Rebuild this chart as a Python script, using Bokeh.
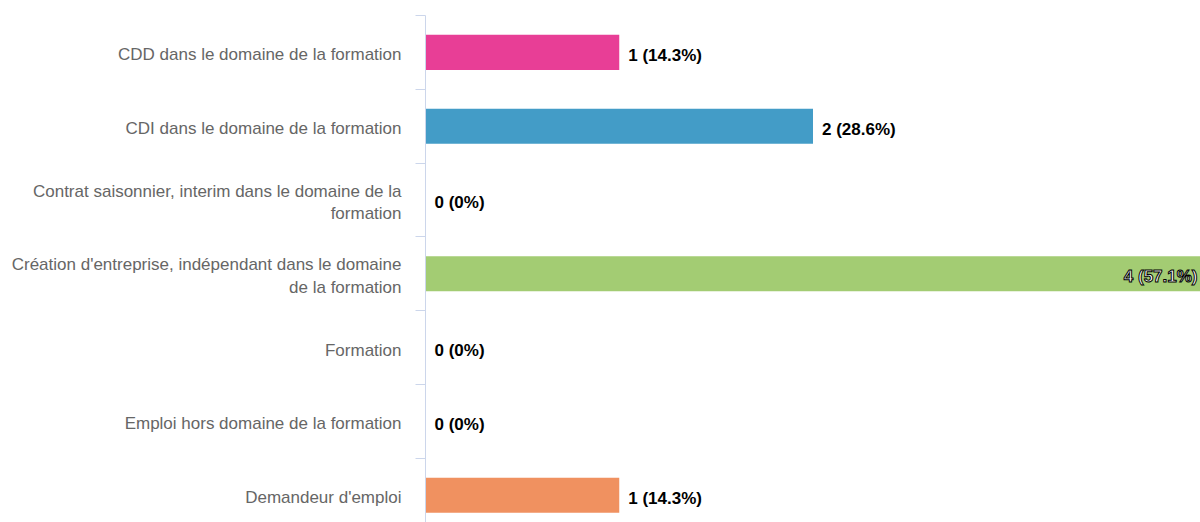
from bokeh.plotting import figure
from bokeh.models import Range1d, FixedTicker, ColumnDataSource
from bokeh.core.properties import value
from bokeh.embed import file_html
from bokeh.resources import INLINE

categories = [
    "CDD dans le domaine de la formation",
    "CDI dans le domaine de la formation",
    "Contrat saisonnier, interim dans le domaine de la\nformation",
    "Création d'entreprise, indépendant dans le domaine\nde la formation",
    "Formation",
    "Emploi hors domaine de la formation",
    "Demandeur d'emploi",
]
counts = [1, 2, 0, 4, 0, 0, 1]
percents = ["14.3%", "28.6%", "0%", "57.1%", "0%", "0%", "14.3%"]
colors = ["#e83e96", "#439cc7", "#7cb5ec", "#a3cc73", "#f7a35c", "#8085e9", "#f09160"]

labels = [f"{c} ({pc})" for c, pc in zip(counts, percents)]
ypos = list(range(len(categories)))
vmax = max(counts)

p = figure(width=1200, height=522, output_backend="svg", toolbar_location=None,
           x_range=Range1d(0, vmax), y_range=Range1d(6.37, -0.5),
           x_axis_location=None, min_border_left=425, min_border_right=0,
           min_border_top=15, min_border_bottom=0)
p.outline_line_color = None
p.xgrid.visible = False
p.ygrid.visible = False
p.background_fill_color = "white"
p.border_fill_color = "white"

src = ColumnDataSource(dict(y=ypos, v=counts, c=colors, lab=labels))
p.hbar(y="y", right="v", left=0, height=0.475, fill_color="c", line_color=None, source=src)

out_idx = [i for i, c in enumerate(counts) if c < vmax]
in_idx = [i for i, c in enumerate(counts) if c == vmax]
p.text(x=[counts[i] for i in out_idx], y=[ypos[i] for i in out_idx],
       text=[labels[i] for i in out_idx], x_offset=9, y_offset=3,
       text_font=value("Liberation Sans"), text_font_style="bold",
       text_font_size="17px", text_color="#000000",
       text_align="left", text_baseline="middle")
p.text(x=[counts[i] for i in in_idx], y=[ypos[i] for i in in_idx],
       text=[labels[i] for i in in_idx], x_offset=-3, y_offset=3,
       text_font=value("Liberation Sans"), text_font_style="bold",
       text_font_size="17px", text_color="#ffffff",
       text_outline_color="#000000",
       text_align="right", text_baseline="middle")

shift = 0.035
tick_vals = [i + shift for i in ypos]
ax = p.yaxis[0]
ax.ticker = FixedTicker(ticks=tick_vals, minor_ticks=[i - 0.5 for i in range(len(categories) + 1)])
ax.major_label_overrides = {t: categories[i] for i, t in enumerate(tick_vals)}
ax.major_tick_out = 0
ax.major_tick_in = 0
ax.minor_tick_out = 10
ax.minor_tick_in = 0
ax.minor_tick_line_color = "#ccd6eb"
ax.axis_line_color = "#ccd6eb"
ax.major_label_text_font = "Liberation Sans"
ax.major_label_text_font_size = "17px"
ax.major_label_text_color = "#666666"
ax.major_label_standoff = 14

open("out.html", "w").write(file_html(p, INLINE))
